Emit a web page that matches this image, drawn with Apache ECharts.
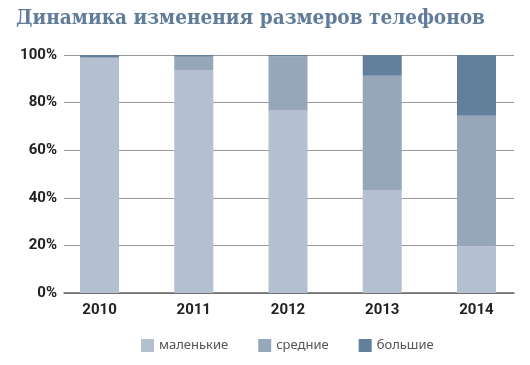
<!DOCTYPE html>
<html><head><meta charset="utf-8">
<script src="https://cdn.jsdelivr.net/npm/echarts@6/dist/echarts.min.js"></script>
<style>html,body{margin:0;padding:0;background:#fff}#c{width:530px;height:365px}</style>
</head><body><div id="c"></div>
<script>
const titleText = 'Динамика изменения размеров телефонов';
const years = ['2010', '2011', '2012', '2013', '2014'];
const seriesNames = ['маленькие', 'средние', 'большие'];
const small = [98.7, 93.7, 76.9, 43.3, 19.5];
const medium = [0.5, 5.6, 22.6, 48.0, 55.0];
const large = [0.8, 0.7, 0.5, 8.7, 25.5];
const yTicks = [0, 20, 40, 60, 80, 100];
const colors = ['#b4bfcf', '#95a7b9', '#627f9b'];

const chart = echarts.init(document.getElementById('c'), null, {renderer: 'canvas'});
const dataSets = [small, medium, large];
chart.setOption({
  animation: false,
  title: {
    text: titleText, left: 11, top: 3,
    textStyle: {fontFamily: '"DejaVu Serif Condensed", "DejaVu Serif"', fontWeight: 'bold', fontSize: 20.6, color: '#5f7c9a'}
  },
  legend: {
    left: 136, top: 334, itemWidth: 13, itemHeight: 13, itemGap: 30, icon: 'rect',
    data: seriesNames,
    textStyle: {fontFamily: 'Noto Sans', fontSize: 13, color: '#555'}
  },
  grid: [
    {left: 64, right: 16, top: 55, bottom: 72},
    {left: 52.4, right: 6.4, top: 55, bottom: 72}
  ],
  xAxis: [
    {type: 'value', gridIndex: 0, min: 0, max: 1, show: true,
     axisLine: {show: true, onZero: false, lineStyle: {color: '#666', width: 1.5}},
     axisTick: {show: false}, axisLabel: {show: false}, splitLine: {show: false}},
    {type: 'category', gridIndex: 1, data: years,
     axisLine: {show: false}, axisTick: {show: false},
     axisLabel: {margin: 10, fontFamily: 'Roboto', fontWeight: 'bold', fontSize: 15, color: '#222'}}
  ],
  yAxis: [
    {type: 'value', gridIndex: 0, min: 0, max: 100, interval: 20,
     axisLine: {show: false}, axisTick: {show: false},
     axisLabel: {margin: 7, formatter: v => yTicks.includes(v) ? v + '%' : '',
       fontFamily: 'Roboto', fontWeight: 'bold', fontSize: 15, color: '#222'},
     splitLine: {lineStyle: {color: '#9a9a9a', width: 1}}},
    {type: 'value', gridIndex: 1, min: 0, max: 100, show: false}
  ],
  series: seriesNames.map((n, i) => ({
    name: n, type: 'bar', stack: 'total', xAxisIndex: 1, yAxisIndex: 1,
    barWidth: 39, data: dataSets[i], itemStyle: {color: colors[i]}
  }))
});
</script></body></html>
